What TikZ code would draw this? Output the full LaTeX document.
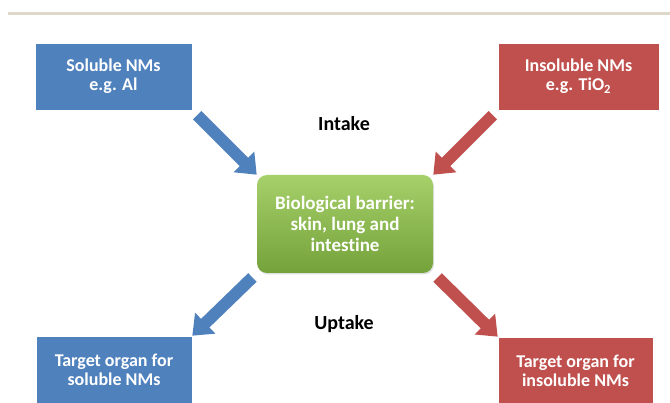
\documentclass[tikz,border=0pt]{standalone}
\usepackage{fontspec}
\setmainfont[Ligatures=NoCommon]{Carlito}
\usetikzlibrary{arrows.meta,shadows}
\definecolor{myblue}{HTML}{4F81BD}
\definecolor{myred}{HTML}{C0504D}
\definecolor{greentop}{HTML}{A6D06A}
\definecolor{greenbot}{HTML}{74A23A}
\definecolor{rulegray}{HTML}{DDD8CA}
\tikzset{
  box/.style={draw=white, line width=0.6pt, inner sep=0pt, align=center, text=white,
    font=\fontsize{18}{19}\selectfont\bfseries,
    drop shadow={opacity=0.25, shadow xshift=1pt, shadow yshift=-1.5pt}},
  bluebox/.style={box, fill=myblue},
  redbox/.style={box, fill=myred},
  centerbox/.style={box, draw=none, rounded corners=10pt, top color=greentop, bottom color=greenbot,
    font=\fontsize{19}{21}\selectfont\bfseries},
  label/.style={font=\fontsize{20}{22}\selectfont\bfseries, text=black},
  fatarrow/.style={line width=12pt, -{Triangle[width=28pt,length=18pt]}},
}
\begin{document}
\begin{tikzpicture}[x=1pt,y=-1pt]
\clip (0,0) rectangle (670,403);
\fill[white] (0,0) rectangle (670,403);
\fill[rulegray] (8,12) rectangle (670,15.5);

\node[bluebox, minimum width=157pt, minimum height=67pt] (tl) at (113.5,76.5) {Soluble NMs\\e.g. Al};
\node[redbox, minimum width=161pt, minimum height=67pt] (tr) at (578.5,76.5) {Insoluble NMs\\e.g. TiO\textsubscript{2}};
\node[centerbox, minimum width=176pt, minimum height=98pt] (c) at (345,224) {Biological barrier:\\skin, lung and\\intestine};
\node[bluebox, minimum width=156pt, minimum height=68pt] (bl) at (114,370) {Target organ for\\soluble NMs};
\node[redbox, minimum width=155pt, minimum height=68pt] (br) at (575.5,371) {Target organ for\\insoluble NMs};

\node[label] (intake) at (344,124) {Intake};
\node[label] (uptake) at (344,324) {Uptake};

\draw[fatarrow, myblue, shorten <=7pt] (tl.south east) -- (c.north west);
\draw[fatarrow, myred, shorten <=7pt] (tr.south west) -- (c.north east);
\draw[fatarrow, myblue, shorten <=6pt] (c.south west) -- (bl.north east);
\draw[fatarrow, myred, shorten <=6pt] (c.south east) -- (br.north west);
\end{tikzpicture}
\end{document}
